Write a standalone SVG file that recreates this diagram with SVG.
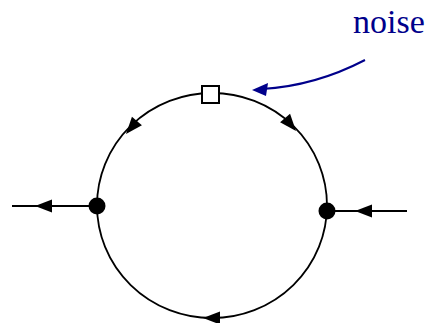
<svg xmlns="http://www.w3.org/2000/svg" width="430" height="323" viewBox="0 0 430 323">
<style>
.ln{fill:none;stroke:#000;stroke-width:1.8}
.ah{fill:#000}
.bl{fill:none;stroke:#00008b;stroke-width:2}
.dot{fill:#000}
.sq{fill:#fff;stroke:#000;stroke-width:2}
.lbl{font-family:"Liberation Serif",serif;font-size:34px;fill:#00008b}
</style>
<defs>
<path id="ah" d="M0,0 L-17,-6.5 L-17,6.5 Z"/>
</defs>
<rect width="430" height="323" fill="#fff"/>
<g id="connectors">
<ellipse class="ln" cx="212" cy="205.5" rx="115" ry="112.5"/>
<line class="ln" x1="12" y1="206" x2="97" y2="206"/>
<line class="ln" x1="327" y1="211" x2="407" y2="211"/>
<use href="#ah" class="ah" transform="translate(35,206) rotate(180)"/>
<use href="#ah" class="ah" transform="translate(355,211) rotate(180)"/>
<use href="#ah" class="ah" transform="translate(126,134) rotate(130)"/>
<use href="#ah" class="ah" transform="translate(296,131) rotate(50)"/>
<use href="#ah" class="ah" transform="translate(203,318) rotate(180)"/>
<path class="bl" d="M365,60 Q315,86 262,89"/>
<path d="M252,90 L268,83 L266,96 Z" fill="#00008b"/>
</g>
<g id="node-noise-source">
<rect class="sq" x="202" y="86" width="17" height="17"/>
</g>
<g id="node-left">
<circle class="dot" cx="97" cy="206" r="8.5"/>
</g>
<g id="node-right">
<circle class="dot" cx="327" cy="211" r="8.5"/>
</g>
<g id="label-noise">
<text class="lbl" x="353" y="33">noise</text>
</g>
</svg>
